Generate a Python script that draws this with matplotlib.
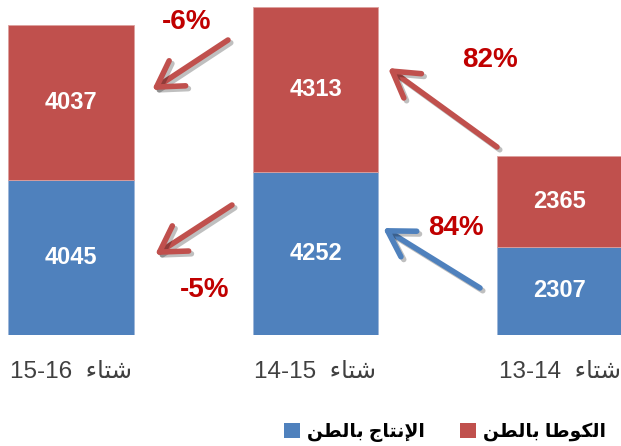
import matplotlib
matplotlib.use("Agg")
import matplotlib.pyplot as plt
import matplotlib.patheffects as pe
from matplotlib.patches import Patch

plt.rcParams['font.family'] = ['Liberation Sans', 'DejaVu Sans']

# Data (Arabic written in presentation forms, visual order, since matplotlib has no bidi shaping)
shita = "\uFE80\uFE8E\uFE98\uFEB7"  # شتاء
seasons = ["13-14", "14-15", "15-16"]
production = [2307, 4252, 4045]  # الإنتاج بالطن
quota = [2365, 4313, 4037]       # الكوطا بالطن
bil_tan = "\uFEE6\uFEC4\uFEDF\uFE8E\uFE91"
label_prod = bil_tan + " " + "\uFE9D\uFE8E\uFE98\uFEE7\uFEF9\uFE8D"
label_quota = bil_tan + " " + "\uFE8E\uFEC3\uFEEE\uFEDC\uFEDF\uFE8D"

blue = "#4F81BD"
red = "#C0504D"
dark_red = "#C00000"

W, H = 621, 446
fig = plt.figure(figsize=(W / 100, H / 100), dpi=100)
ax = fig.add_axes([0, (H - 335) / H, 1, 335 / H])

# right-to-left order: first season on the right
n = len(seasons)
xs = [n - 1 - i for i in range(n)]
width = 0.515

ax.bar(xs, production, width, color=blue, edgecolor="#9DB6D9", linewidth=0.6)
ax.bar(xs, quota, width, bottom=production, color=red, edgecolor="#DDA09E", linewidth=0.6)

for x, p, q in zip(xs, production, quota):
    ax.text(x, p / 2, str(p), ha="center", va="center", color="white",
            fontsize=17, fontweight="bold")
    ax.text(x, p + q / 2, str(q), ha="center", va="center", color="white",
            fontsize=17, fontweight="bold")

ax.set_xlim(-71 / 244.5, (W - 71) / 244.5)
ax.set_ylim(0, 8747)
ax.set_xticks(xs)
ax.set_xticklabels([s + "  " + shita for s in seasons], fontsize=17.5, color="#404040")
ax.tick_params(axis="x", length=0, pad=19)
ax.set_yticks([])
for sp in ax.spines.values():
    sp.set_visible(False)


# change labels and arrows (placed in figure pixels, measured from top-left)
def px(x, y):
    return (x / W, 1 - y / H)


def pct(new, old):
    return "{:.0f}%".format((new / old - 1) * 100)


changes = [
    # text, text pos, arrow tail, arrow head, arrow colour
    (pct(quota[2], quota[1]), (187, 22), (228, 40), (152, 90), red),
    (pct(quota[1], quota[0]), (490, 60), (497, 147), (388, 68), red),
    (pct(production[1], production[0]), (456, 228), (480, 288), (383, 228), blue),
    (pct(production[2], production[1]), (205, 290), (232, 205), (155, 255), red),
]

for txt, tpos, tail, head, col in changes:
    fig.text(*px(*tpos), txt, ha="center", va="center", color=dark_red,
             fontsize=20, fontweight="bold")
    ax.annotate("", xy=px(*head), xycoords="figure fraction",
                xytext=px(*tail), textcoords="figure fraction",
                arrowprops=dict(arrowstyle="->,head_length=1.0,head_width=0.6",
                                color=col, lw=4, mutation_scale=18,
                                shrinkA=0, shrinkB=0,
                                path_effects=[pe.SimpleLineShadow(offset=(2, -2), shadow_color="k", alpha=0.25),
                                              pe.Normal()]))

handles = [Patch(facecolor=blue, label=label_prod), Patch(facecolor=red, label=label_quota)]
fig.legend(handles=handles, loc="center", bbox_to_anchor=(445 / W, 1 - 432 / H),
           ncol=2, frameon=False, handlelength=0.85, handleheight=0.85,
           handletextpad=0.35, columnspacing=1.9,
           prop={"weight": "bold", "size": 13.5})

fig.savefig("out.png", dpi=100)
